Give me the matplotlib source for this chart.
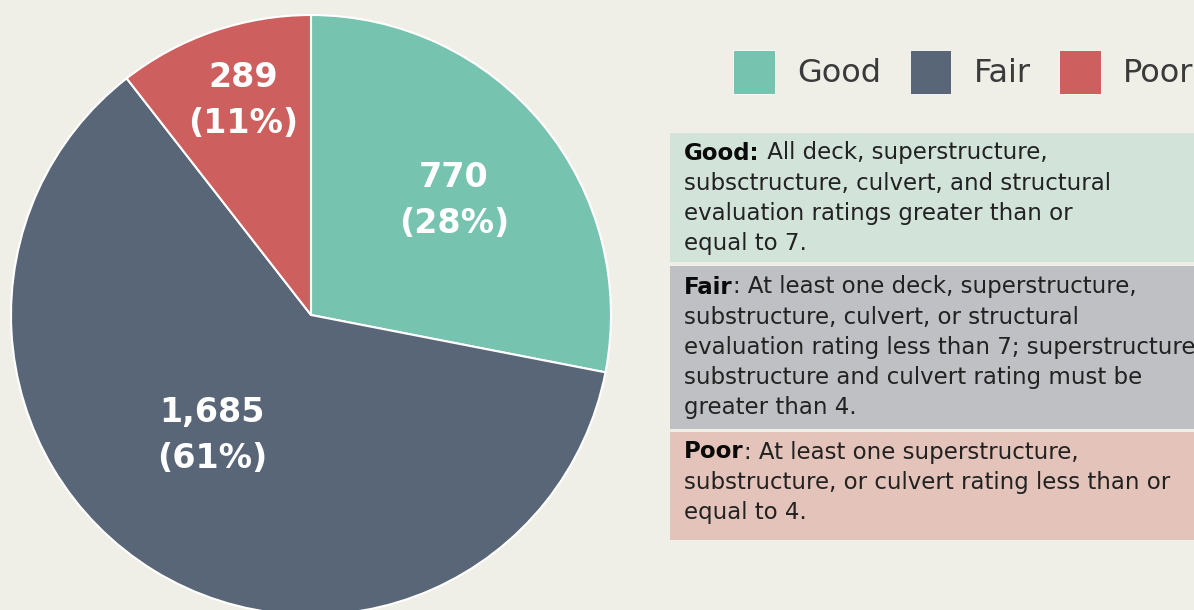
import matplotlib
matplotlib.use("Agg")
import matplotlib.pyplot as plt
from matplotlib.patches import Rectangle
import numpy as np

# ---- data ----
categories = ["Good", "Fair", "Poor"]
counts = [770, 1685, 289]
pct_labels = ["28%", "61%", "11%"]
count_labels = ["770", "1,685", "289"]
colors = ["#76C3AF", "#596677", "#CD5F5F"]
box_colors = ["#D2E3DA", "#BFC0C4", "#E4C4BA"]
descriptions = [
    ("Good:", [" All deck, superstructure,",
               "subsctructure, culvert, and structural",
               "evaluation ratings greater than or",
               "equal to 7."]),
    ("Fair", [": At least one deck, superstructure,",
              "substructure, culvert, or structural",
              "evaluation rating less than 7; superstructure,",
              "substructure and culvert rating must be",
              "greater than 4."]),
    ("Poor", [": At least one superstructure,",
              "substructure, or culvert rating less than or",
              "equal to 4."]),
]

BG = "#EFEFE8"
FONT = ["DejaVu Sans"]
plt.rcParams["font.family"] = FONT

W, H = 1194, 610
fig = plt.figure(figsize=(W / 100, H / 100), dpi=100, facecolor=BG)

# pie axes: centre (311, 315) px, radius 300 px
cx, cy, R = 311, 315, 300
ax = fig.add_axes([(cx - R) / W, (H - cy - R) / H, 2 * R / W, 2 * R / H])
ax.set_facecolor(BG)
wedges, _ = ax.pie(counts, colors=colors, startangle=90, counterclock=False,
                   radius=1.0, wedgeprops=dict(edgecolor="white", linewidth=1.5))
ax.set_xlim(-1, 1)
ax.set_ylim(-1, 1)
ax.set_aspect("equal")
ax.axis("off")
for w in wedges:
    w.set_clip_on(False)

# label positions relative to pie (radius fraction, angle in degrees)
label_pos = [(0.61, 38.6), (0.52, 230.8), (0.75, 107.5)]
for (r, ang), c, p in zip(label_pos, count_labels, pct_labels):
    x, y = r * np.cos(np.radians(ang)), r * np.sin(np.radians(ang))
    ax.text(x, y, f"{c}\n({p})", color="white", fontsize=24, fontweight="bold",
            ha="center", va="center", linespacing=1.5)

# overlay axes in pixel coordinates
ov = fig.add_axes([0, 0, 1, 1], facecolor="none")
ov.set_xlim(0, W)
ov.set_ylim(H, 0)
ov.axis("off")

# legend
leg = ov.legend(wedges, categories, loc="center left", bbox_to_anchor=(733 / W, 1 - 72 / H),
                bbox_transform=fig.transFigure, ncol=3, frameon=False, fontsize=23,
                handlelength=1.3, handleheight=1.76, handletextpad=0.7,
                columnspacing=0.9, borderaxespad=0, borderpad=0)
for t in leg.get_texts():
    t.set_color("#3a3a3a")
for h in leg.legend_handles:
    h.set_edgecolor("#ffffff")
    h.set_linewidth(0.6)

# description boxes
boxes = [(133, 262), (266, 429), (432, 540)]
first_line_y = [153, 287, 452]
line_step = 30.2
FS = 16.5
for (y0, y1), bc, (bold, lines), ly in zip(boxes, box_colors, descriptions, first_line_y):
    ov.add_patch(Rectangle((670, y0), W - 670 + 5, y1 - y0, facecolor=bc,
                           edgecolor="none", clip_on=False))
    bt = ov.text(684, ly, bold, fontsize=FS, fontweight="bold", color="#0a0a0a",
                 va="center", ha="left")
    ov.annotate(lines[0], xy=(1, 0.5), xycoords=bt, va="center", ha="left",
                fontsize=FS, color="#222222", annotation_clip=False)
    for i, ln in enumerate(lines[1:], start=1):
        ov.text(684, ly + i * line_step, ln, fontsize=FS, color="#222222",
                va="center", ha="left")

fig.savefig("out.png", dpi=100, facecolor=BG)
